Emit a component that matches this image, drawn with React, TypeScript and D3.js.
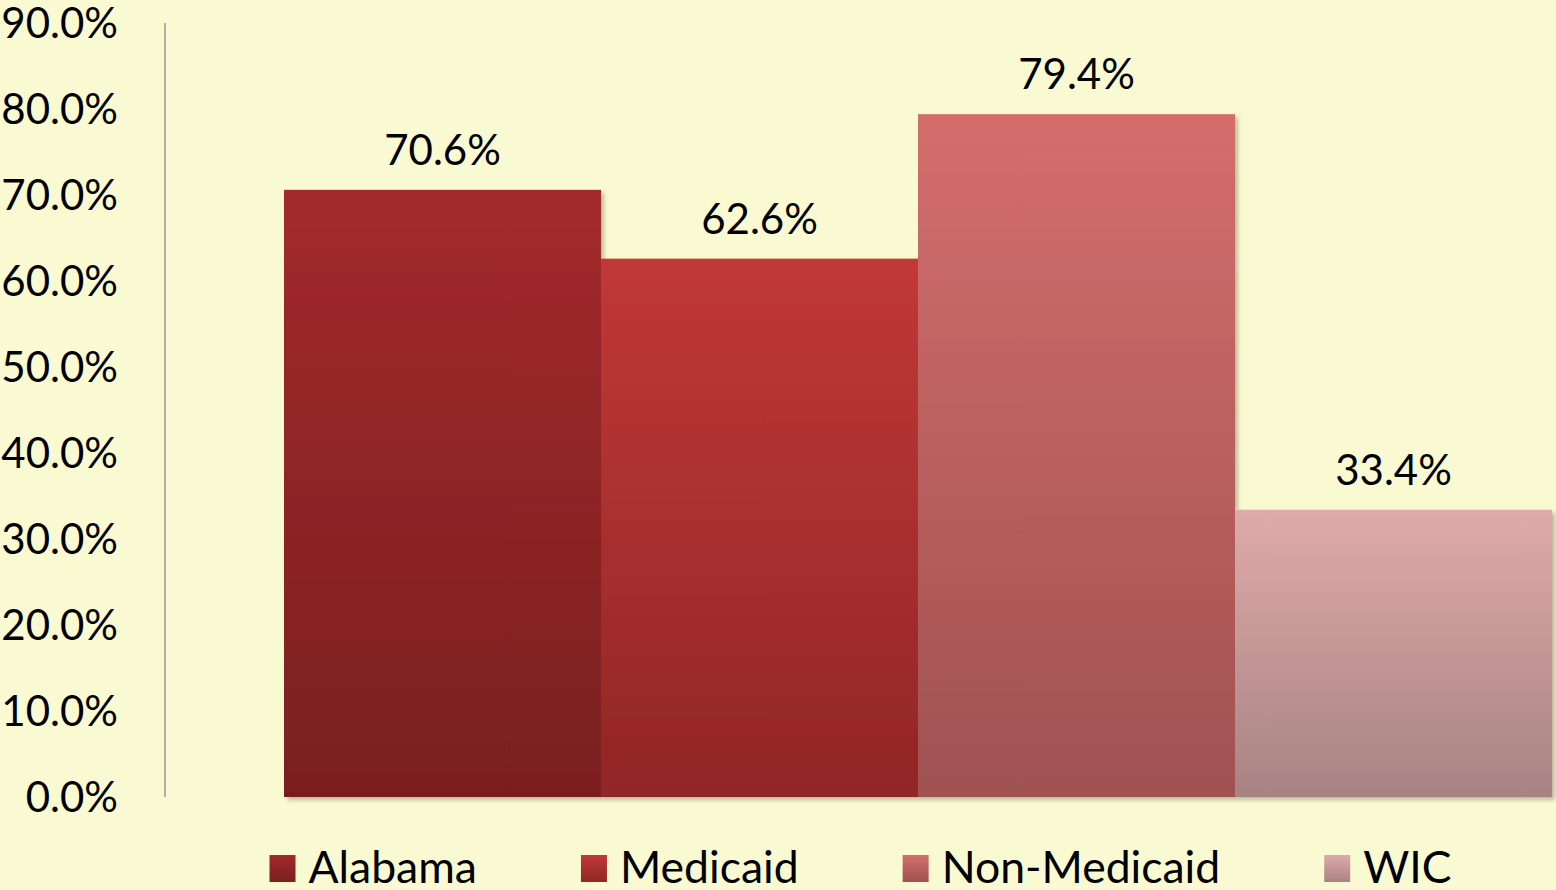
import React, { useEffect, useRef } from "react";
import * as d3 from "d3";

const seriesNames = ["Alabama", "Medicaid", "Non-Medicaid", "WIC"];
const seriesValues = [70.6, 62.6, 79.4, 33.4];
const yTicks = [0, 10, 20, 30, 40, 50, 60, 70, 80, 90];
const topColors = ["#A32A2B", "#C13838", "#D46E6D", "#DFAAAA"];
const bottomColors = ["#7A1F1F", "#912626", "#A05151", "#A88383"];

const W = 1556;
const H = 890;
const BG = "#FAFAD2";
const FONT = "Lato, 'Open Sans', sans-serif";
const FS = 42;
const LEGEND_FS = 44.5;

export default function App() {
  const ref = useRef<SVGSVGElement | null>(null);

  useEffect(() => {
    const svg = d3.select(ref.current);
    svg.selectAll("*").remove();

    const axisX = 165;
    const y = d3.scaleLinear().domain([0, 90]).range([797, 23]);
    const x = d3.scaleBand<string>().domain(seriesNames).range([284, 1552]).padding(0);

    const defs = svg.append("defs");
    seriesNames.forEach((_, i) => {
      const g = defs
        .append("linearGradient")
        .attr("id", `grad${i}`)
        .attr("x1", 0)
        .attr("y1", 0)
        .attr("x2", 0)
        .attr("y2", 1);
      g.append("stop").attr("offset", "0%").attr("stop-color", topColors[i]);
      g.append("stop").attr("offset", "100%").attr("stop-color", bottomColors[i]);
    });
    const f = defs
      .append("filter")
      .attr("id", "shadow")
      .attr("x", "-10%")
      .attr("y", "-10%")
      .attr("width", "130%")
      .attr("height", "130%");
    f.append("feDropShadow")
      .attr("dx", 3)
      .attr("dy", 3)
      .attr("stdDeviation", 2)
      .attr("flood-color", "#000")
      .attr("flood-opacity", 0.25);

    svg.append("rect").attr("width", W).attr("height", H).attr("fill", BG);

    // y axis line
    svg
      .append("line")
      .attr("x1", axisX)
      .attr("x2", axisX)
      .attr("y1", y(90))
      .attr("y2", y(0))
      .attr("stroke", "#999999")
      .attr("stroke-width", 1.5);

    // tick labels
    svg
      .append("g")
      .selectAll("text")
      .data(yTicks)
      .join("text")
      .attr("x", 118)
      .attr("y", (d) => y(d) + 15)
      .attr("text-anchor", "end")
      .attr("font-family", FONT)
      .attr("font-size", FS)
      .attr("fill", "#000")
      .text((d) => d3.format(".1f")(d) + "%");

    // bars
    const bars = svg.append("g").attr("filter", "url(#shadow)");
    bars
      .selectAll("rect")
      .data(seriesValues)
      .join("rect")
      .attr("x", (_, i) => x(seriesNames[i])!)
      .attr("width", x.bandwidth())
      .attr("y", (d) => y(d))
      .attr("height", (d) => y(0) - y(d))
      .attr("fill", (_, i) => `url(#grad${i})`);

    // data labels
    svg
      .append("g")
      .selectAll("text")
      .data(seriesValues)
      .join("text")
      .attr("x", (_, i) => x(seriesNames[i])! + x.bandwidth() / 2)
      .attr("y", (d) => y(d) - 25)
      .attr("text-anchor", "middle")
      .attr("font-family", FONT)
      .attr("font-size", FS)
      .attr("fill", "#000")
      .text((d) => d3.format(".1f")(d) + "%");

    // legend
    const legend = svg.append("g");
    const sq = 26;
    const gapSqText = 13;
    const itemGap = 104;
    const items = seriesNames.map((name, i) => {
      const g = legend.append("g");
      g.append("rect")
        .attr("x", 0)
        .attr("y", 855)
        .attr("width", sq)
        .attr("height", 27)
        .attr("fill", `url(#grad${i})`);
      const t = g
        .append("text")
        .attr("x", sq + gapSqText)
        .attr("y", 883)
        .attr("font-family", FONT)
        .attr("font-size", LEGEND_FS)
        .attr("fill", "#000")
        .text(name);
      const w = (t.node() as SVGTextElement).getComputedTextLength();
      return { g, width: sq + gapSqText + w };
    });
    const total = d3.sum(items, (d) => d.width) + itemGap * (items.length - 1);
    const center = (axisX + 1552) / 2 + 2;
    let cx = center - total / 2;
    items.forEach((it) => {
      it.g.attr("transform", `translate(${cx},0)`);
      cx += it.width + itemGap;
    });
  }, []);

  return (
    <div style={{ position: "absolute", left: 0, top: 0, width: W, height: H }}>
      <svg ref={ref} width={W} height={H} style={{ display: "block" }} />
    </div>
  );
}
